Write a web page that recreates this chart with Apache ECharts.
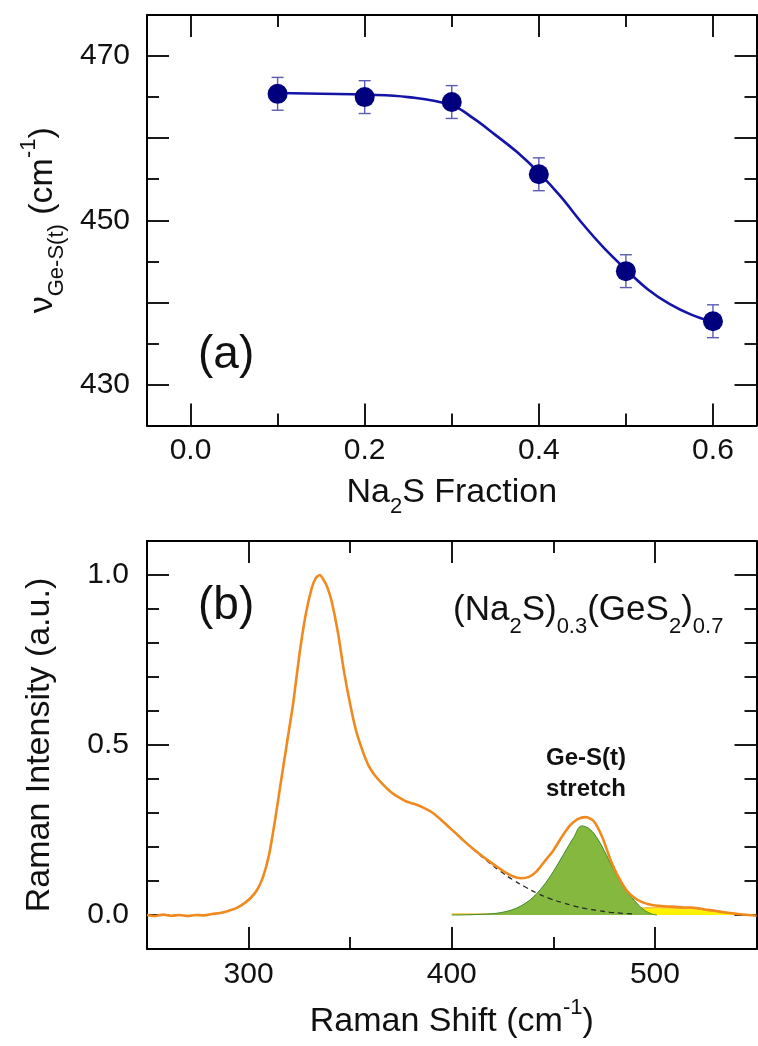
<!DOCTYPE html>
<html>
<head>
<meta charset="utf-8">
<script src="https://cdn.jsdelivr.net/npm/echarts@6/dist/echarts.min.js"></script>
<style>
  html, body { margin: 0; padding: 0; background: #fff; }
  #chart { width: 758px; height: 1046px; }
</style>
</head>
<body>
<div id="chart"></div>
<script>
// ---- panel (a): Ge-S(t) stretch frequency vs Na2S fraction
var fraction = [0.1, 0.2, 0.3, 0.4, 0.5, 0.6];
var freq = [465.4, 465.0, 464.4, 455.6, 443.8, 437.7];
var freqErr = [2.0, 2.0, 2.0, 2.0, 2.0, 2.0];
var curveFraction = [0.1, 0.15, 0.2, 0.25, 0.3, 0.325, 0.35, 0.375, 0.4, 0.425, 0.45, 0.475, 0.5, 0.525, 0.55, 0.575, 0.6];
var curveFreq = [465.5, 465.4, 465.3, 465.0, 464.0, 462.4, 460.4, 458.3, 455.8, 452.9, 449.6, 446.6, 444.0, 441.6, 439.8, 438.5, 437.6];

// ---- panel (b): Raman spectrum of (Na2S)0.3(GeS2)0.7
var ramanShift = [250, 254, 258, 262, 266, 270, 274, 278, 282, 286, 290, 294, 298, 301, 304, 307, 310, 313, 316, 319,
  322, 325, 328, 331, 333, 335, 337, 339, 341, 344, 347, 350, 353, 356, 359, 362, 366, 370, 374, 378,
  382, 386, 390, 394, 398, 402, 406, 410, 414, 418, 422, 426, 430, 434, 438, 442, 446, 450, 454, 458,
  462, 466, 470, 474, 478, 482, 486, 490, 494, 498, 502, 506, 510, 514, 518, 522, 526, 530, 534, 538,
  542, 546, 550];
var ramanIntensity = [0.000, -0.003, 0.001, -0.002, 0.000, -0.003, 0.000, -0.001, 0.003, 0.006, 0.012, 0.020, 0.035, 0.050, 0.072, 0.110, 0.175, 0.278, 0.395, 0.510,
  0.625, 0.765, 0.880, 0.960, 0.990, 1.000, 0.985, 0.960, 0.920, 0.830, 0.715, 0.620, 0.540, 0.485, 0.440, 0.412, 0.385, 0.362, 0.346, 0.333,
  0.326, 0.316, 0.303, 0.284, 0.262, 0.240, 0.218, 0.197, 0.178, 0.160, 0.143, 0.127, 0.114, 0.108, 0.112, 0.130, 0.160, 0.190, 0.228, 0.262,
  0.282, 0.288, 0.275, 0.230, 0.165, 0.112, 0.073, 0.050, 0.037, 0.030, 0.027, 0.025, 0.024, 0.022, 0.022, 0.019, 0.015, 0.012, 0.008, 0.005,
  0.002, 0.000, -0.002];
var fitShift = [400, 410, 420, 425, 430, 435, 440, 445, 450, 455, 460, 464, 468, 472, 476, 480, 485, 490, 494, 498, 501];
var fitIntensity = [0.000, 0.001, 0.004, 0.008, 0.016, 0.030, 0.052, 0.085, 0.128, 0.178, 0.228, 0.262, 0.252, 0.222, 0.178, 0.130, 0.078, 0.042, 0.018, 0.004, 0.000];
var bgShift = [394, 400, 406, 412, 418, 424, 430, 436, 442, 448, 454, 460, 466, 472, 478, 484, 490];
var bgIntensity = [0.284, 0.252, 0.218, 0.186, 0.156, 0.128, 0.104, 0.083, 0.064, 0.049, 0.037, 0.027, 0.019, 0.013, 0.008, 0.005, 0.003];
var yelShift = [400, 420, 440, 460, 475, 482, 487, 492, 497, 502, 507, 512, 517, 522, 527, 532, 537, 542, 547];
var yelIntensity = [0.003, 0.003, 0.003, 0.004, 0.006, 0.010, 0.015, 0.019, 0.021, 0.022, 0.021, 0.020, 0.020, 0.017, 0.013, 0.009, 0.005, 0.002, 0.000];

// ---- ticks
var aXMajor = [0, 0.2, 0.4, 0.6], aXMinor = [0.1, 0.3, 0.5];
var aYMajor = [430, 440, 450, 460, 470], aYMinor = [435, 445, 455, 465], aYLabels = [430, 450, 470];
var bXMajor = [300, 400, 500], bXMinor = [350, 450];
var bYMajor = [0, 0.5, 1.0], bYMinor = [0.1, 0.2, 0.3, 0.4, 0.6, 0.7, 0.8, 0.9];

var FONT = "'Liberation Sans', Arial, sans-serif";
var subSup = {
  sub: { fontSize: 22, fontFamily: FONT, verticalAlign: 'bottom', lineHeight: 21, color: '#111' },
  sup: { fontSize: 22, fontFamily: FONT, verticalAlign: 'top', lineHeight: 21, color: '#111' }
};

function zip(a, b) {
  return a.map(function (v, i) { return [v, b[i]]; });
}

// four axes per side-pair: main (labels), main minor, mirror, mirror minor
function boxAxes(dim, gridIndex, min, max, major, minor, labels, o) {
  var sides = dim === 'x' ? ['bottom', 'top'] : ['left', 'right'];
  var list = [];
  sides.forEach(function (pos, s) {
    [major, minor].forEach(function (vals, k) {
      var ax = {
        type: 'value', gridIndex: gridIndex, min: min, max: max, position: pos,
        axisLine: { show: k === 0, onZero: false, lineStyle: { color: '#000', width: 2 } },
        axisTick: { show: true, inside: true, length: k === 0 ? 22 : 12, customValues: vals,
          lineStyle: { color: '#000', width: 1.8 } },
        axisLabel: { show: false },
        splitLine: { show: false },
        minorTick: { show: false }
      };
      if (s === 0 && k === 0) {
        ax.axisLabel = { show: true, customValues: labels, formatter: o.fmt, fontSize: 30,
          fontFamily: FONT, color: '#111', margin: o.margin, lineHeight: 30 };
        ax.name = o.name;
        ax.nameLocation = 'middle';
        ax.nameGap = o.nameGap;
        ax.nameRotate = dim === 'y' ? 90 : 0;
        ax.nameTextStyle = { fontSize: 34, fontFamily: FONT, color: '#111', lineHeight: o.lh || 50, rich: subSup };
      }
      list.push(ax);
    });
  });
  return list;
}

var xAxes = [].concat(
  boxAxes('x', 0, -0.05, 0.65, aXMajor, aXMinor, aXMajor,
    { fmt: function (v) { return v.toFixed(1); }, margin: 10, name: 'Na{sub|2}S Fraction', nameGap: 42 }),
  boxAxes('x', 1, 250, 550, bXMajor, bXMinor, bXMajor,
    { fmt: function (v) { return String(v); }, margin: 11, name: 'Raman Shift (cm{sup|-1})', nameGap: 48 })
);
var yAxes = [].concat(
  boxAxes('y', 0, 425, 475, aYMajor, aYMinor, aYLabels,
    { fmt: function (v) { return String(v); }, margin: 17, name: '\u03bd{sub|Ge-S(t)} (cm{sup|-1})', nameGap: 79 }),
  boxAxes('y', 1, -0.1, 1.1, bYMajor, bYMinor, bYMajor,
    { fmt: function (v) { return v.toFixed(1); }, margin: 18, name: 'Raman Intensity (a.u.)', nameGap: 87, lh: 40 })
);

var errData = fraction.map(function (f, i) { return [f, freq[i] - freqErr[i], freq[i] + freqErr[i]]; });

var option = {
  backgroundColor: '#fff',
  animation: false,
  grid: [
    { left: 147, top: 15, right: 1.5, height: 410.5, containLabel: false, outerBoundsMode: 'none' },
    { left: 147, top: 541, right: 1.5, height: 408, containLabel: false, outerBoundsMode: 'none' }
  ],
  xAxis: xAxes,
  yAxis: yAxes,
  series: [
    {
      type: 'custom', name: 'error', xAxisIndex: 0, yAxisIndex: 0,
      data: errData, encode: { x: 0, y: [1, 2] }, z: 2,
      renderItem: function (params, api) {
        var x = api.value(0);
        var top = api.coord([x, api.value(2)]);
        var bot = api.coord([x, api.value(1)]);
        var w = 6;
        var st = { stroke: '#5c5cb0', lineWidth: 1.4 };
        return { type: 'group', children: [
          { type: 'line', shape: { x1: top[0], y1: top[1], x2: bot[0], y2: bot[1] }, style: st },
          { type: 'line', shape: { x1: top[0] - w, y1: top[1], x2: top[0] + w, y2: top[1] }, style: st },
          { type: 'line', shape: { x1: bot[0] - w, y1: bot[1], x2: bot[0] + w, y2: bot[1] }, style: st }
        ] };
      }
    },
    {
      type: 'line', name: 'fit', xAxisIndex: 0, yAxisIndex: 0, data: zip(curveFraction, curveFreq),
      smooth: 0.4, showSymbol: false, lineStyle: { color: '#1414a8', width: 2.6 }, z: 3
    },
    {
      type: 'scatter', name: 'data', xAxisIndex: 0, yAxisIndex: 0, data: zip(fraction, freq),
      symbol: 'circle', symbolSize: 20, itemStyle: { color: '#00007e', opacity: 1 }, z: 4
    },
    {
      type: 'line', name: 'residual', xAxisIndex: 4, yAxisIndex: 4, data: zip(yelShift, yelIntensity),
      smooth: 0.3, showSymbol: false, lineStyle: { color: '#f2c34a', width: 1.5 },
      areaStyle: { color: '#fff200', opacity: 1 }, z: 2
    },
    {
      type: 'line', name: 'Ge-S(t)', xAxisIndex: 4, yAxisIndex: 4, data: zip(fitShift, fitIntensity),
      smooth: 0.4, showSymbol: false, lineStyle: { color: '#3f8a2a', width: 1 },
      areaStyle: { color: '#84b83e', opacity: 1 }, z: 3
    },
    {
      type: 'line', name: 'background', xAxisIndex: 4, yAxisIndex: 4, data: zip(bgShift, bgIntensity),
      smooth: 0.4, showSymbol: false, lineStyle: { color: '#2a2a2a', width: 1.3, type: [5, 4] }, z: 4
    },
    {
      type: 'line', name: 'spectrum', xAxisIndex: 4, yAxisIndex: 4, data: zip(ramanShift, ramanIntensity),
      smooth: 0.25, showSymbol: false, lineStyle: { color: '#f0891e', width: 2.6 }, z: 5
    }
  ],
  graphic: [
    { type: 'text', x: 198, y: 355, z: 10,
      style: { text: '(a)', fontSize: 46, fontFamily: FONT, fill: '#111', verticalAlign: 'middle' } },
    { type: 'text', x: 198, y: 606, z: 10,
      style: { text: '(b)', fontSize: 46, fontFamily: FONT, fill: '#111', verticalAlign: 'middle' } },
    { type: 'text', x: 453, y: 610, z: 10,
      style: { text: '(Na{s|2}S){s|0.3}(GeS{s|2}){s|0.7}', fontSize: 35, fontFamily: FONT, fill: '#111',
        verticalAlign: 'middle', lineHeight: 56,
        rich: { s: { fontSize: 22, fontFamily: FONT, fill: '#111', verticalAlign: 'bottom', lineHeight: 22 } } } },
    { type: 'text', x: 586, y: 758, z: 10,
      style: { text: 'Ge-S(t)', fontSize: 24, fontWeight: 'bold', fontFamily: FONT, fill: '#111',
        align: 'center', verticalAlign: 'middle' } },
    { type: 'text', x: 586, y: 789, z: 10,
      style: { text: 'stretch', fontSize: 24, fontWeight: 'bold', fontFamily: FONT, fill: '#111',
        align: 'center', verticalAlign: 'middle' } }
  ]
};

var chart = echarts.init(document.getElementById('chart'));
chart.setOption(option);
</script>
</body>
</html>
